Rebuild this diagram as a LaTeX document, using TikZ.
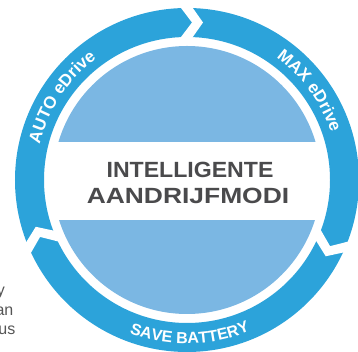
\documentclass[tikz,border=0pt]{standalone}
\usepackage{fontspec}
\setmainfont{Liberation Sans}
\usetikzlibrary{decorations.text}
\definecolor{ringblue}{HTML}{2CA3DA}
\definecolor{diskblue}{HTML}{7BB7E3}
\definecolor{titlegray}{HTML}{4A4A4C}
\definecolor{bodygray}{HTML}{555555}
\newcommand\ringfmt{\fontsize{17}{17}\selectfont\bfseries\color{white}}
\newcommand\savefmt{\fontsize{16}{16}\selectfont\bfseries\color{white}}
\newcommand\ringgap[1]{\fill[white, shift={(C)}, rotate=#1-90]
  (-9,176) -- (5,157.5) -- (-9,139) -- (3,139) -- (16,157.5) -- (3,176) -- cycle;}
\begin{document}
\begin{tikzpicture}[x=1pt,y=1pt,
  title/.style={titlegray, anchor=base, inner sep=0, font=\fontsize{22}{22}\selectfont\bfseries},
  frag/.style={bodygray, anchor=base east, inner sep=0, font=\fontsize{16}{16}\selectfont}]
\useasboundingbox (0,0) rectangle (358,352);
\clip (0,0) rectangle (358,352);
\coordinate (C) at (187,172);
% inner disk with white band
\fill[diskblue] (C) circle[radius=134];
\begin{scope}
  \clip (C) circle[radius=136];
  \fill[white] (0,132) rectangle (358,210);
\end{scope}
% ring
\draw[ringblue, line width=29] (C) circle[radius=157.5];
\ringgap{90}
\ringgap{203}
\ringgap{-23}
% ring labels
\path[decorate, decoration={text along path, text align=center,
  text={|\ringfmt|AUTO eDrive}}]
  (C) ++(190:151.5) arc[start angle=190, end angle=103, radius=151.5];
\path[decorate, decoration={text along path, text align=center,
  text={|\ringfmt|MAX eDrive}}]
  (C) ++(80:151.5) arc[start angle=80, end angle=-8, radius=151.5];
\path[decorate, decoration={text along path, text align=center,
  text={|\savefmt|SAVE BATTERY}}]
  (C) ++(-135:163.5) arc[start angle=-135, end angle=-43, radius=163.5];
% title
\node[title] (t1) at (190,174.7) {\scalebox{1.05}[1]{INTELLIGENTE}};
\node[title] (t2) at (188,148.7) {\scalebox{1.2}[1]{AANDRIJFMODI}};
% cut-off text fragments at the left edge
\node[frag] (f1) at (5,56) {y};
\node[frag] (f2) at (13.5,36) {an};
\node[frag] (f3) at (15.5,17) {us};
\end{tikzpicture}
\end{document}
